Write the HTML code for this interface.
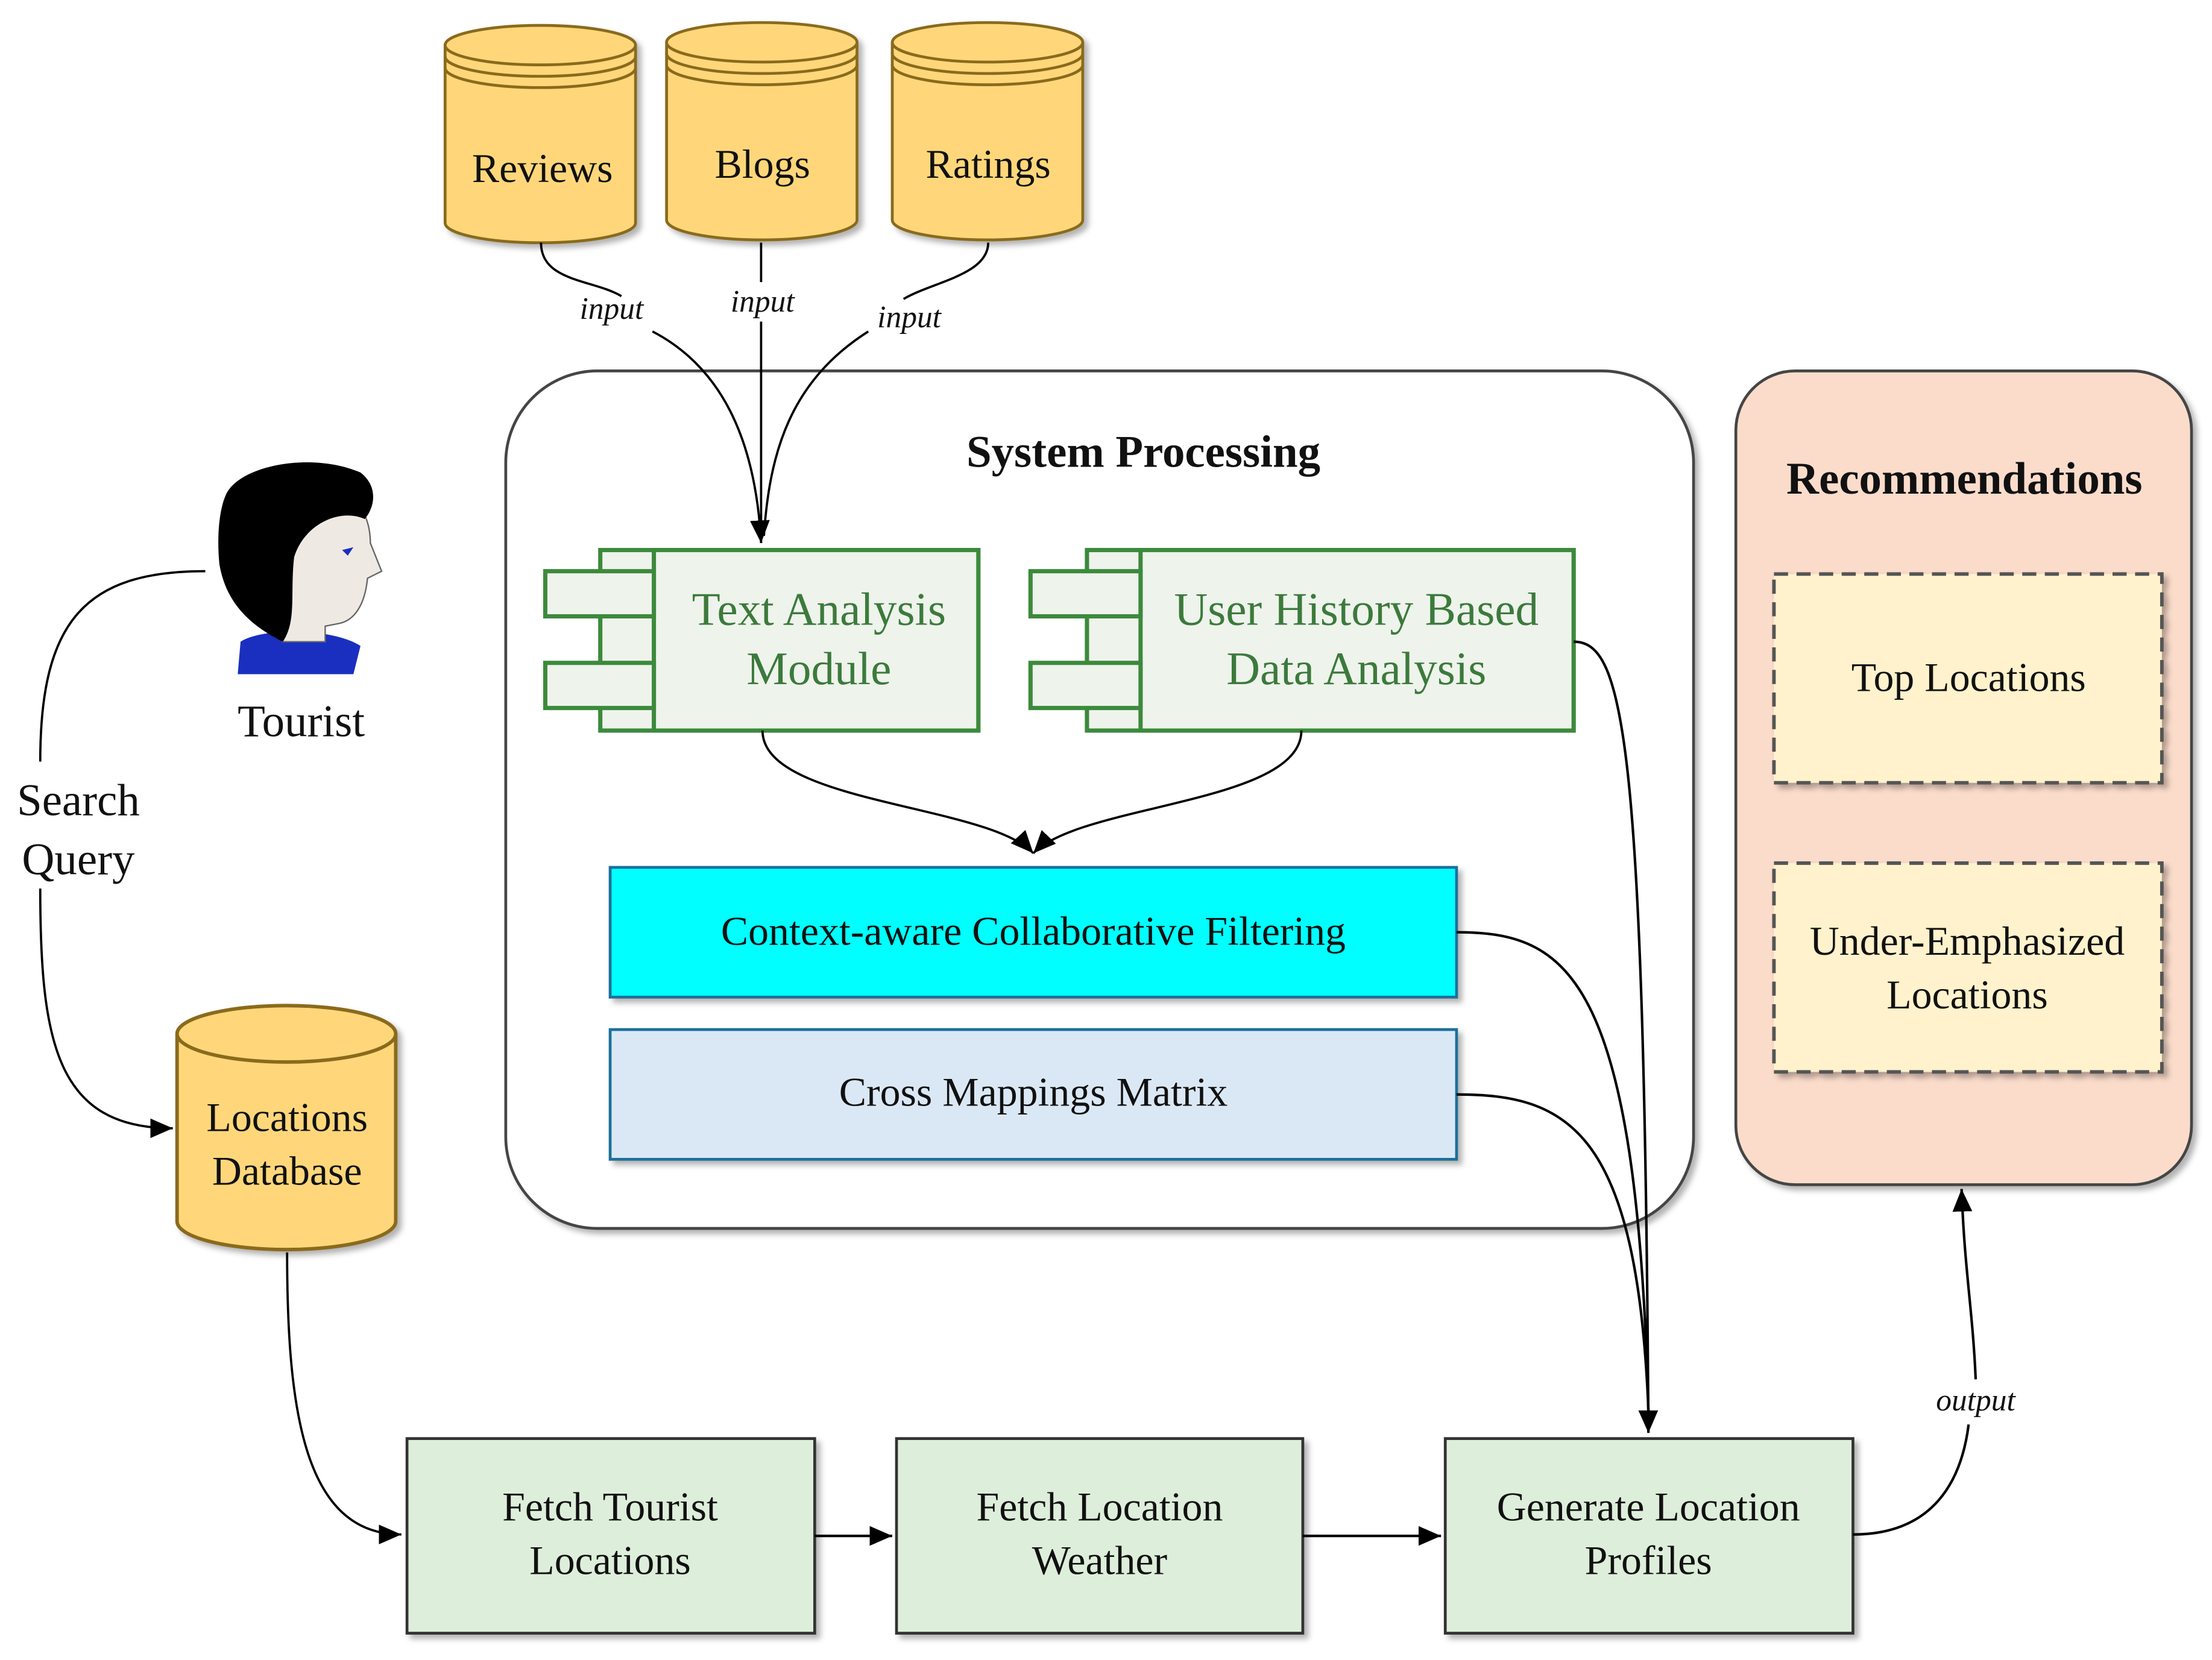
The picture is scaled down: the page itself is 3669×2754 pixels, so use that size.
<!DOCTYPE html>
<html><head><meta charset="utf-8"><style>
html,body{margin:0;padding:0;background:#fff;}
svg{display:block;}
text{font-family:"Liberation Serif",serif;fill:#111;}
</style></head><body>
<svg width="3669" height="2754" viewBox="0 0 1567 1177" xmlns="http://www.w3.org/2000/svg">
<defs>
<marker id="ar" markerWidth="10" markerHeight="10" refX="9" refY="5" orient="auto" markerUnits="userSpaceOnUse"><path d="M0,0 L10,5 L0,10 z" fill="#000"/></marker>
<marker id="arb" markerWidth="18" markerHeight="18" refX="16" refY="7" orient="auto" markerUnits="userSpaceOnUse"><path d="M0,0 L16,7 L0,14 z" fill="#000"/></marker>
<filter id="sh" x="-10%" y="-10%" width="130%" height="130%"><feDropShadow dx="3" dy="3" stdDeviation="2" flood-color="#000" flood-opacity="0.3"/></filter>
</defs>

<!-- cylinders top -->
<g filter="url(#sh)" stroke="#8a6a1a" stroke-width="2" fill="#FFD77A">
<g>
<path d="M315,32 L315,158 A67,14 0 0 0 450,158 L450,32"/>
<ellipse cx="382.5" cy="32" rx="67.5" ry="14"/>
<path d="M315,40 A67,14 0 0 0 450,40 M315,48 A67,14 0 0 0 450,48" fill="none"/>
</g>
<g>
<path d="M472,30 L472,156 A67,14 0 0 0 607,156 L607,30"/>
<ellipse cx="539.5" cy="30" rx="67.5" ry="14"/>
<path d="M472,38 A67,14 0 0 0 607,38 M472,46 A67,14 0 0 0 607,46" fill="none"/>
</g>
<g>
<path d="M632,30 L632,156 A67,14 0 0 0 767,156 L767,30"/>
<ellipse cx="699.5" cy="30" rx="67.5" ry="14"/>
<path d="M632,38 A67,14 0 0 0 767,38 M632,46 A67,14 0 0 0 767,46" fill="none"/>
</g>
</g>
<text x="384" y="129" font-size="29" text-anchor="middle">Reviews</text>
<text x="540" y="126" font-size="29" text-anchor="middle">Blogs</text>
<text x="700" y="126" font-size="29" text-anchor="middle">Ratings</text>

<!-- system processing -->
<rect x="358" y="263" width="842" height="608" rx="65" fill="#fff" stroke="#444" stroke-width="2" filter="url(#sh)"/>
<text x="810" y="331" font-size="32" font-weight="bold" text-anchor="middle">System Processing</text>

<!-- input curves -->
<g fill="none" stroke="#000" stroke-width="1.6">
<path d="M383,172 C383,200 420,198 440,210"/>
<path d="M462,235 C510,260 535,310 539,385" marker-end="url(#arb)"/>
<path d="M539,172 L539,200"/>
<path d="M539,228 L539,385"/>
<path d="M700,172 C700,195 660,200 640,212"/>
<path d="M615,235 C560,270 545,320 541,380"/>
</g>
<text x="433" y="226" font-size="22" font-style="italic" text-anchor="middle">input</text>
<text x="540" y="221" font-size="22" font-style="italic" text-anchor="middle">input</text>
<text x="644" y="232" font-size="22" font-style="italic" text-anchor="middle">input</text>

<!-- components -->
<g stroke="#3C8A3C" stroke-width="3" fill="#EEF3EC">
<rect x="425" y="390" width="268" height="128"/>
<rect x="463" y="390" width="230" height="128"/>
<rect x="386" y="405" width="77" height="32"/>
<rect x="386" y="470" width="77" height="32"/>
<rect x="770" y="390" width="345" height="128"/>
<rect x="808" y="390" width="307" height="128"/>
<rect x="730" y="405" width="78" height="32"/>
<rect x="730" y="470" width="78" height="32"/>
</g>
<text x="580" y="443" font-size="33" text-anchor="middle" style="fill:#3C7A3C">Text Analysis</text>
<text x="580" y="485" font-size="33" text-anchor="middle" style="fill:#3C7A3C">Module</text>
<text x="961" y="443" font-size="33" text-anchor="middle" style="fill:#3C7A3C">User History Based</text>
<text x="961" y="485" font-size="33" text-anchor="middle" style="fill:#3C7A3C">Data Analysis</text>

<g fill="none" stroke="#000" stroke-width="1.6">
<path d="M540,518 C540,570 700,570 732,605" marker-end="url(#arb)"/>
<path d="M922,518 C922,570 765,570 732,605" marker-end="url(#arb)"/>
</g>

<rect x="432" y="615" width="600" height="92" fill="#00FFFF" stroke="#1a6f9a" stroke-width="2" filter="url(#sh)"/>
<text x="732" y="670" font-size="29" text-anchor="middle">Context-aware Collaborative Filtering</text>
<rect x="432" y="730" width="600" height="92" fill="#DAE8F5" stroke="#1a6f9a" stroke-width="2" filter="url(#sh)"/>
<text x="732" y="784" font-size="29" text-anchor="middle">Cross Mappings Matrix</text>

<!-- recommendations -->
<rect x="1230" y="263" width="323" height="577" rx="42" fill="#FBDCCB" stroke="#444" stroke-width="2" filter="url(#sh)"/>
<text x="1392" y="350" font-size="32" font-weight="bold" text-anchor="middle">Recommendations</text>
<rect x="1257" y="407" width="275" height="148" fill="#FFF2CC" stroke="#555" stroke-width="2.5" stroke-dasharray="10,6" filter="url(#sh)"/>
<text x="1395" y="490" font-size="29" text-anchor="middle">Top Locations</text>
<rect x="1257" y="612" width="275" height="148" fill="#FFF2CC" stroke="#555" stroke-width="2.5" stroke-dasharray="10,6" filter="url(#sh)"/>
<text x="1394" y="677" font-size="29" text-anchor="middle">Under-Emphasized</text>
<text x="1394" y="715" font-size="29" text-anchor="middle">Locations</text>

<!-- tourist -->
<g>
<path d="M170,455 C185,445 235,445 255,458 L250,478 L168,478 Z" fill="#1a2fbf"/>
<path d="M190,345 C230,330 262,350 262,385 L270,405 L260,410 C258,430 250,440 240,442 L230,444 L230,455 L200,455 L195,430 C180,420 178,380 190,345 Z" fill="#efe9e4" stroke="#666" stroke-width="1"/>
<path d="M160,350 C170,330 220,320 255,335 C268,345 265,360 258,368 C240,360 215,372 208,395 C205,420 210,440 200,455 C180,445 160,430 155,400 C153,380 155,360 160,350 Z" fill="#000"/>
<path d="M242,390 L250,388 L246,394 Z" fill="#1a2fbf"/>
</g>
<text x="213" y="522" font-size="32" text-anchor="middle">Tourist</text>

<path d="M145,405 C60,405 28,440 28,540" fill="none" stroke="#000" stroke-width="1.6"/>
<text x="55" y="578" font-size="32" text-anchor="middle">Search</text>
<text x="55" y="620" font-size="32" text-anchor="middle">Query</text>
<path d="M28,630 C28,740 40,800 122,800" fill="none" stroke="#000" stroke-width="1.6" marker-end="url(#arb)"/>

<!-- locations db -->
<g filter="url(#sh)" stroke="#8a6a1a" stroke-width="2.5" fill="#FFD77A">
<path d="M125,733 L125,866 A77.5,20 0 0 0 280,866 L280,733"/>
<ellipse cx="202.5" cy="733" rx="77.5" ry="20"/>
</g>
<text x="203" y="802" font-size="29" text-anchor="middle">Locations</text>
<text x="203" y="840" font-size="29" text-anchor="middle">Database</text>

<path d="M203,888 C203,1000 215,1088 284,1088" fill="none" stroke="#000" stroke-width="1.6" marker-end="url(#arb)"/>

<!-- bottom boxes -->
<g fill="#DDEEDA" stroke="#333" stroke-width="2" filter="url(#sh)">
<rect x="288" y="1020" width="289" height="138"/>
<rect x="635" y="1020" width="288" height="138"/>
<rect x="1024" y="1020" width="289" height="138"/>
</g>
<text x="432" y="1078" font-size="29" text-anchor="middle">Fetch Tourist</text>
<text x="432" y="1116" font-size="29" text-anchor="middle">Locations</text>
<text x="779" y="1078" font-size="29" text-anchor="middle">Fetch Location</text>
<text x="779" y="1116" font-size="29" text-anchor="middle">Weather</text>
<text x="1168" y="1078" font-size="29" text-anchor="middle">Generate Location</text>
<text x="1168" y="1116" font-size="29" text-anchor="middle">Profiles</text>

<g fill="none" stroke="#000" stroke-width="1.8">
<path d="M577,1089 L632,1089" marker-end="url(#arb)"/>
<path d="M923,1089 L1021,1089" marker-end="url(#arb)"/>
<path d="M1115,455 C1150,455 1165,520 1168,1016" marker-end="url(#arb)"/>
<path d="M1032,661 C1110,661 1160,690 1168,1000"/>
<path d="M1032,776 C1110,776 1160,800 1168,1000"/>
<path d="M1313,1088 C1370,1088 1390,1050 1395,1010"/>
<path d="M1400,978 C1398,930 1392,900 1390,843" marker-end="url(#arb)"/>
</g>
<text x="1400" y="1000" font-size="22" font-style="italic" text-anchor="middle">output</text>
</svg>
</body></html>
